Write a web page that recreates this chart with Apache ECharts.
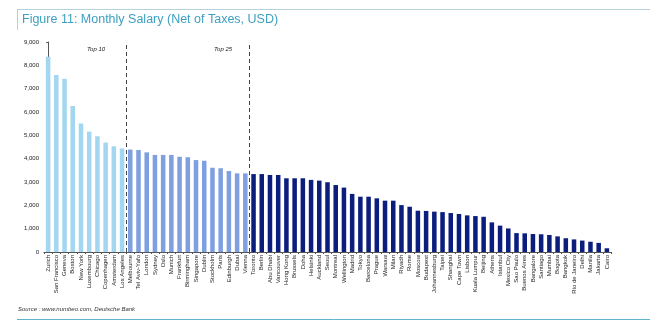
<!DOCTYPE html>
<html>
<head>
<meta charset="utf-8">
<title>Monthly Salary</title>
<script src="https://cdn.jsdelivr.net/npm/echarts@6/dist/echarts.min.js"></script>
<style>
  html, body { margin: 0; padding: 0; background: #fff; }
  #chart { width: 650px; height: 326px; }
</style>
</head>
<body>
<div id="chart"></div>
<script>
// cities, ordered by salary
const cities = [
  'Zurich', 'San Francisco', 'Geneva', 'Boston', 'New York', 'Luxembourg', 'Chicago',
  'Copenhagen', 'Amsterdam', 'Los Angeles',
  'Melbourne', 'Tel Aviv-Yafo', 'London', 'Sydney', 'Oslo', 'Munich', 'Frankfurt',
  'Birmingham', 'Singapore', 'Dublin', 'Stockholm', 'Paris', 'Edinburgh', 'Dubai', 'Vienna',
  'Toronto', 'Berlin', 'Abu Dhabi', 'Vancouver', 'Hong Kong', 'Brussels', 'Doha', 'Helsinki',
  'Auckland', 'Seoul', 'Montreal', 'Wellington', 'Madrid', 'Tokyo', 'Barcelona', 'Prague',
  'Warsaw', 'Milan', 'Riyadh', 'Rome', 'Moscow', 'Budapest', 'Johannesburg', 'Taipei',
  'Shanghai', 'Cape Town', 'Lisbon', 'Kuala Lumpur', 'Beijing', 'Athens', 'Istanbul',
  'Mexico City', 'Sao Paulo', 'Buenos Aires', 'Bangalore', 'Santiago', 'Mumbai', 'Bogota',
  'Bangkok', 'Rio de Janeiro', 'Delhi', 'Manila', 'Jakarta', 'Cairo'
]

// monthly salary, net of taxes (USD)
const salaries = [
  8370, 7590, 7430, 6260, 5510, 5160, 4960, 4690, 4530, 4440,
  4390, 4370, 4270, 4160, 4160, 4160, 4080, 4060, 3940, 3910, 3610, 3590, 3470, 3370, 3370,
  3340, 3340, 3300, 3300, 3160, 3160, 3160, 3090, 3060, 2990, 2870, 2760, 2490, 2370, 2370,
  2300, 2200, 2200, 2010, 1940, 1770, 1760, 1730, 1710, 1670, 1630, 1570, 1540, 1510,
  1270, 1130, 1010, 810, 800, 770, 760, 730, 670, 590, 540, 490, 440, 390, 160
]

const yTicks = [0, 1000, 2000, 3000, 4000, 5000, 6000, 7000, 8000, 9000]

// group boundaries (Top 10 / Top 25)
const groupBreaks = [10, 25]
const groupColors = ['#a3d6f1', '#7e9fe0', '#0b1e7e']

const chart = echarts.init(document.getElementById('chart'))

function barColor(params) {
  const i = params.dataIndex
  if (i < groupBreaks[0]) return groupColors[0]
  if (i < groupBreaks[1]) return groupColors[1]
  return groupColors[2]
}

chart.setOption({
  animation: false,
  textStyle: { fontFamily: 'Liberation Sans, Arial, sans-serif' },
  grid: {
    left: 44,
    right: 39,
    top: 42,
    bottom: 74
  },
  xAxis: [
    {
      type: 'category',
      data: cities,
      axisLine: { lineStyle: { color: '#555', width: 1 } },
      axisTick: { show: true, length: 2, lineStyle: { color: '#555' } },
      axisLabel: {
        interval: 0,
        rotate: 90,
        fontSize: 6,
        color: '#222',
        margin: 3
      }
    },
    {
      // hidden helper axis for the group separators
      type: 'value',
      show: false,
      min: -0.5,
      max: cities.length - 0.5
    }
  ],
  yAxis: {
    type: 'value',
    min: yTicks[0],
    max: yTicks[yTicks.length - 1],
    interval: 1000,
    axisLine: { show: true, lineStyle: { color: '#555', width: 1 } },
    axisTick: { show: true, length: 2, lineStyle: { color: '#555' } },
    splitLine: { show: false },
    axisLabel: {
      fontSize: 6,
      color: '#222',
      margin: 5,
      formatter: function(v) {
        return v.toLocaleString('en-US')
      }
    }
  },
  series: [
    {
      name: 'Salary',
      type: 'bar',
      data: salaries,
      barWidth: '55%',
      itemStyle: { color: barColor }
    },
    {
      name: 'breaks',
      type: 'line',
      xAxisIndex: 1,
      data: [],
      markLine: {
        silent: true,
        symbol: 'none',
        label: { show: false },
        lineStyle: { color: '#444', type: [4, 3], width: 1 },
        data: groupBreaks.map(b => ({ xAxis: b - 0.5 }))
      }
    }
  ],
  graphic: [
    // frame lines and title
    { type: 'line', shape: { x1: 17, y1: 9.5, x2: 650, y2: 9.5 }, style: { stroke: '#b5d3dc', lineWidth: 1 } },
    { type: 'line', shape: { x1: 17.5, y1: 9, x2: 17.5, y2: 30 }, style: { stroke: '#b5d3dc', lineWidth: 1 } },
    {
      type: 'text',
      left: 22,
      top: 13,
      style: {
        text: 'Figure 11: Monthly Salary (Net of Taxes, USD)',
        fill: '#3d9fc0',
        font: '12.5px "Liberation Sans", Arial, sans-serif'
      }
    },
    {
      type: 'text',
      left: 87,
      top: 46,
      style: { text: 'Top 10', fill: '#222', font: 'italic 6px "Liberation Sans", Arial, sans-serif' }
    },
    {
      type: 'text',
      left: 214,
      top: 46,
      style: { text: 'Top 25', fill: '#222', font: 'italic 6px "Liberation Sans", Arial, sans-serif' }
    },
    {
      type: 'text',
      left: 18,
      top: 306,
      style: { text: 'Source : www.numbeo.com, Deutsche Bank', fill: '#333', font: 'italic 6px "Liberation Sans", Arial, sans-serif' }
    },
    { type: 'line', shape: { x1: 17, y1: 319.5, x2: 650, y2: 319.5 }, style: { stroke: '#5fb3cb', lineWidth: 1 } }
  ]
})
</script>
</body>
</html>
